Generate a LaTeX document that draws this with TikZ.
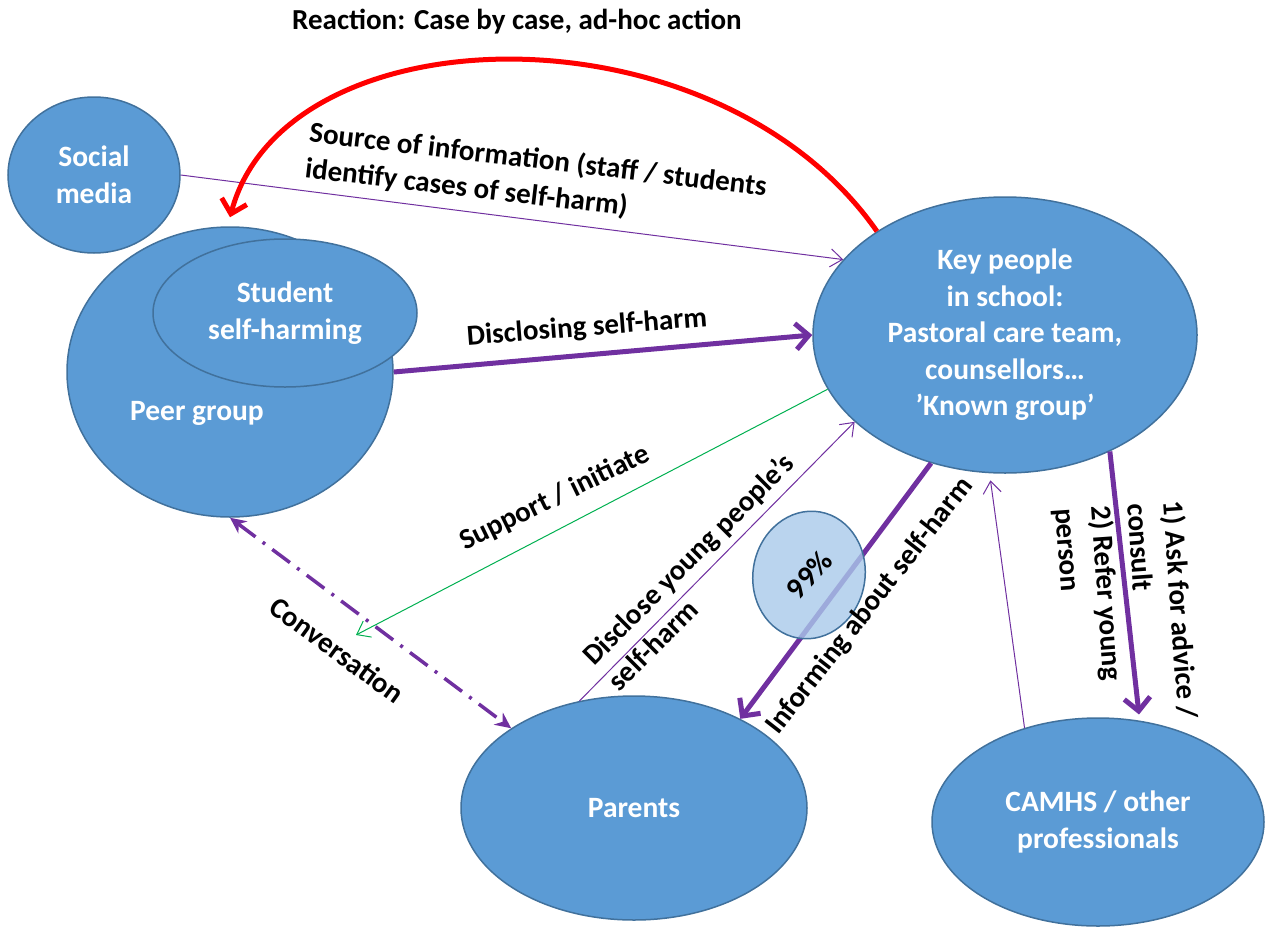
\documentclass[tikz,border=0pt]{standalone}
\usepackage{fontspec}
\setmainfont{Carlito}
\usetikzlibrary{shapes.geometric,arrows.meta}

\definecolor{blobfill}{HTML}{5B9BD5}
\definecolor{blobedge}{HTML}{41719C}
\definecolor{linkpurple}{HTML}{7030A0}
\definecolor{linkgreen}{HTML}{00B050}
\definecolor{pctfill}{HTML}{A9C9EA}

\tikzset{
  blob/.style={ellipse, draw=blobedge, line width=1.5pt, fill=blobfill, text=white,
    font=\bfseries\fontsize{29.5}{36.5}\selectfont, align=center, inner sep=0pt},
  lbl/.style={font=\bfseries\fontsize{29}{36}\selectfont, inner sep=0pt},
  thinlink/.style={draw=linkpurple, line width=1pt, -{Straight Barb[length=12pt,width=18pt]}},
  thicklink/.style={draw=linkpurple, line width=5pt, -{Straight Barb[length=13pt,width=26pt]}},
}

\begin{document}
\begin{tikzpicture}[x=1pt,y=-1pt]
\useasboundingbox (0,0) rectangle (1269,929);

% the people
\node[blob, minimum width=172pt, minimum height=156pt] (social) at (94,175) {Social\\media};
\node[blob, minimum width=326pt, minimum height=290pt] (peer) at (230,372) {};
\node[blob, minimum width=264pt, minimum height=148pt] (student) at (285,313) {Student\\self-harming};
\node[text=white, lbl, font=\bfseries\fontsize{29.5}{36.5}\selectfont] (peerlbl) at (197,413) {Peer group};
\node[blob, minimum width=384pt, minimum height=276pt] (key) at (1005,335)
  {Key people\\in school:\\Pastoral care team,\\counsellors…\\’Known group’};
\node[blob, minimum width=346pt, minimum height=224pt] (parents) at (634,808) {Parents};
\node[blob, minimum width=332pt, minimum height=208pt] (camhs) at (1098,822) {CAMHS / other\\professionals};
\coordinate (suppend) at (356,635);

% links
\draw[thinlink] (social.east) -- (key.155);
\draw[thicklink] (peer.east) -- (key.west);
\draw[red, line width=5pt, -{Straight Barb[length=13pt,width=26pt]}]
  (key.141) .. controls (715,0) and (285,10) .. ([yshift=9pt]peer.north);
\draw[linkgreen, line width=1pt, -{Straight Barb[length=12pt,width=18pt]}] (key.197) -- (suppend);
\draw[thinlink] (parents.117) -- (key.210);
\draw[thicklink] (key.240) -- (parents.40);
\draw[thicklink] (key.312) -- ([yshift=6pt]camhs.68);
\draw[thinlink] (camhs.128) -- ([yshift=-7pt]key.264);
\draw[linkpurple, line width=3.5pt, dash pattern=on 22pt off 9pt on 3pt off 9pt,
  {Stealth[length=16pt,width=15pt]}-{Stealth[length=16pt,width=15pt]}] (peer.south) -- (parents.147);

% 99 percent
\node[ellipse, draw=blobedge, line width=1.5pt, fill=pctfill, fill opacity=0.8,
  rotate=-10, minimum width=112pt, minimum height=128pt] (pct) at (809,575) {};
\node[font=\bfseries\fontsize{30}{36}\selectfont, rotate=47] (pctlbl) at (pct) {99\%};

% labels
\node[lbl] (reaction) at (517,22) {Reaction: Case by case, ad-hoc action};
\node[lbl, align=left, rotate=-6.8, anchor=north west] (sourcelbl) at (311,120)
  {Source of information (staff / students\\identify cases of self-harm)};
\node[lbl, rotate=4.5] (disclosinglbl) at (587,328) {Disclosing self-harm};
\node[lbl, rotate=26] (supportlbl) at (555,498) {Support / initiate};
\node[lbl, align=left, rotate=45, anchor=north west] (discloselbl) at (579,652)
  {Disclose young people’s\\self-harm};
\node[lbl, rotate=52] (informlbl) at (870,606) {Informing about self-harm};
\node[lbl, align=left, rotate=-86, anchor=north west] (referlbl) at (1185,500)
  {1) Ask for advice /\\consult\\2) Refer young\\person};
\node[lbl, rotate=-36] (convlbl) at (337,650) {Conversation};

\end{tikzpicture}
\end{document}
